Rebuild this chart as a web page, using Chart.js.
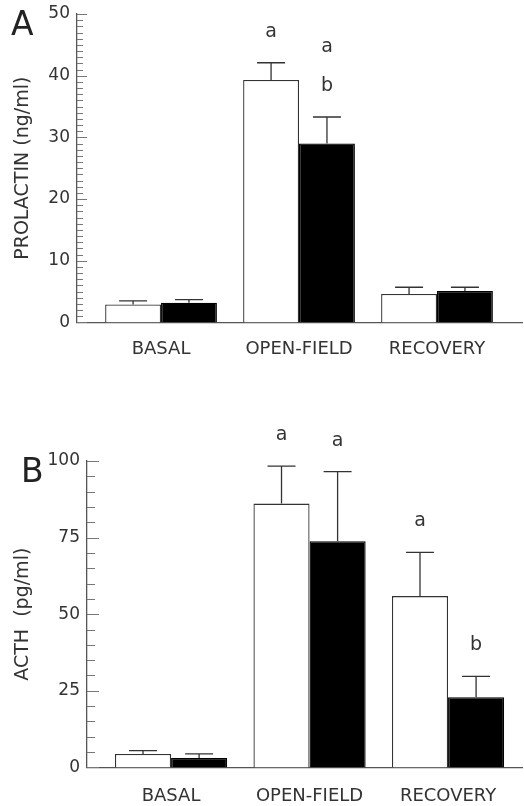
<!DOCTYPE html>
<html>
<head>
<meta charset="utf-8">
<script src="https://cdn.jsdelivr.net/npm/chart.js@4.4.0/dist/chart.umd.min.js"></script>
<style>
    body { margin: 0; background: #fff; overflow: hidden; }
    .panel { position: absolute; left: 0; width: 524px; }
</style>
</head>
<body>
<div class="panel" style="top:0; height:400px;"><canvas id="chartA"></canvas></div>
<div class="panel" style="top:400px; height:430px;"><canvas id="chartB"></canvas></div>
<script>
// categories shared by both panels
const categories = ['BASAL', 'OPEN-FIELD', 'RECOVERY'];

// Panel A - prolactin (ng/ml)
const prolactinWhite = [2.9, 39.3, 4.6];
const prolactinWhiteErr = [0.6, 2.8, 1.1];
const prolactinBlack = [3.2, 29.0, 5.1];
const prolactinBlackErr = [0.5, 4.3, 0.6];
const prolactinWhiteMarks = [[], ['a'], []];
const prolactinBlackMarks = [[], ['a', 'b'], []];
const prolactinTicks = [0, 10, 20, 30, 40, 50];

// Panel B - ACTH (pg/ml)
const acthWhite = [4.4, 86.1, 55.9];
const acthWhiteErr = [1.1, 12.2, 14.3];
const acthBlack = [3.1, 73.8, 22.9];
const acthBlackErr = [1.3, 22.7, 6.8];
const acthWhiteMarks = [[], ['a'], ['a']];
const acthBlackMarks = [[], ['a'], ['b']];
const acthTicks = [0, 25, 50, 75, 100];

const FONT = "'DejaVu Sans', sans-serif";
const TEXT = '#333';

// error bars, significance letters, inward axis ticks and panel letter
const extrasPlugin = {
    id: 'extras',
    afterDatasetsDraw(chart) {
        const ctx = chart.ctx;
        const yScale = chart.scales.y;
        ctx.save();
        ctx.strokeStyle = '#333';
        ctx.lineWidth = 1.3;
        ctx.fillStyle = TEXT;
        ctx.font = '19px ' + FONT;
        ctx.textAlign = 'center';
        ctx.textBaseline = 'alphabetic';
        chart.data.datasets.forEach((ds, i) => {
            chart.getDatasetMeta(i).data.forEach((bar, j) => {
                const capY = yScale.getPixelForValue(ds.data[j].y + ds.errors[j]);
                ctx.beginPath();
                ctx.moveTo(bar.x, bar.y);
                ctx.lineTo(bar.x, capY);
                ctx.moveTo(bar.x - 14, capY);
                ctx.lineTo(bar.x + 14, capY);
                ctx.stroke();
                const marks = ds.marks[j];
                marks.forEach((m, k) => {
                    ctx.fillText(m, bar.x, capY - 26 - (marks.length - 1 - k) * 39);
                });
            });
        });
        ctx.restore();
    },
    afterDraw(chart, args, opts) {
        const ctx = chart.ctx;
        const yScale = chart.scales.y;
        const left = chart.chartArea.left;
        const majors = yScale.ticks.map(t => t.value);
        ctx.save();
        ctx.strokeStyle = '#777';
        ctx.lineWidth = 1;
        for (let v = yScale.min; v <= yScale.max; v += opts.minorStep) {
            const y = Math.round(yScale.getPixelForValue(v)) + 0.5;
            const len = majors.includes(v) ? opts.majorLen : opts.minorLen;
            ctx.beginPath();
            ctx.moveTo(left, y);
            ctx.lineTo(left + len, y);
            ctx.stroke();
        }
        ctx.fillStyle = '#222';
        ctx.font = '33px ' + FONT;
        ctx.textAlign = 'left';
        ctx.textBaseline = 'alphabetic';
        ctx.fillText(opts.panel, opts.panelX, opts.panelY);
        ctx.restore();
    }
};

function buildChart(id, o) {
    return new Chart(document.getElementById(id), {
        type: 'bar',
        data: {
            datasets: [{
                data: o.white.map((v, i) => ({ x: i + 1, y: v })),
                errors: o.whiteErr,
                marks: o.whiteMarks,
                backgroundColor: '#fff',
                borderColor: '#333',
                borderWidth: 1.3
            }, {
                data: o.black.map((v, i) => ({ x: i + 1, y: v })),
                errors: o.blackErr,
                marks: o.blackMarks,
                backgroundColor: '#000',
                borderColor: '#000',
                borderWidth: 1.3
            }]
        },
        options: {
            responsive: true,
            maintainAspectRatio: false,
            animation: false,
            layout: { padding: o.padding },
            datasets: {
                bar: { categoryPercentage: 0.81, barPercentage: 1 }
            },
            plugins: {
                legend: { display: false },
                tooltip: { enabled: false },
                extras: o.extras
            },
            scales: {
                x: {
                    type: 'linear',
                    min: o.xMin,
                    max: o.xMax,
                    offset: false,
                    grid: { display: false, drawTicks: false },
                    border: { display: true, color: '#555', width: 1.3 },
                    afterBuildTicks: s => { s.ticks = categories.map((c, i) => ({ value: i + 1 })); },
                    ticks: {
                        callback: v => categories[v - 1],
                        autoSkip: false,
                        maxRotation: 0,
                        padding: o.xPad,
                        color: TEXT,
                        font: { family: FONT, size: 18 }
                    }
                },
                y: {
                    min: 0,
                    max: o.yMax,
                    grid: { display: false, drawTicks: false },
                    border: { display: true, color: '#555', width: 1.3 },
                    afterBuildTicks: s => { s.ticks = o.yTicks.map(v => ({ value: v })); },
                    afterFit: s => {
                        s.width = o.axisLeft;
                        s.paddingTop = 0;
                        s.paddingBottom = 0;
                    },
                    ticks: {
                        padding: 7,
                        color: TEXT,
                        font: { family: FONT, size: 17 }
                    },
                    title: {
                        display: true,
                        text: o.title,
                        color: TEXT,
                        font: { family: FONT, size: 19 },
                        padding: { top: 12, bottom: 0 }
                    }
                }
            }
        },
        plugins: [extrasPlugin]
    });
}

buildChart('chartA', {
    white: prolactinWhite, whiteErr: prolactinWhiteErr, whiteMarks: prolactinWhiteMarks,
    black: prolactinBlack, blackErr: prolactinBlackErr, blackMarks: prolactinBlackMarks,
    yTicks: prolactinTicks, yMax: 50,
    title: 'PROLACTIN (ng/ml)',
    xMin: 0.391, xMax: 3.616, xPad: 16, axisLeft: 77,
    padding: { top: 14, right: 2, bottom: 24, left: 0 },
    extras: { minorStep: 1, minorLen: 6, majorLen: 10, panel: 'A', panelX: 11, panelY: 35 }
});

buildChart('chartB', {
    white: acthWhite, whiteErr: acthWhiteErr, whiteMarks: acthWhiteMarks,
    black: acthBlack, blackErr: acthBlackErr, blackMarks: acthBlackMarks,
    yTicks: acthTicks, yMax: 100,
    title: 'ACTH  (pg/ml)',
    xMin: 0.393, xMax: 3.534, xPad: 18, axisLeft: 87,
    padding: { top: 61, right: 2, bottom: 5, left: 0 },
    extras: { minorStep: 5, minorLen: 8, majorLen: 12, panel: 'B', panelX: 21, panelY: 82 }
});
</script>
</body>
</html>
